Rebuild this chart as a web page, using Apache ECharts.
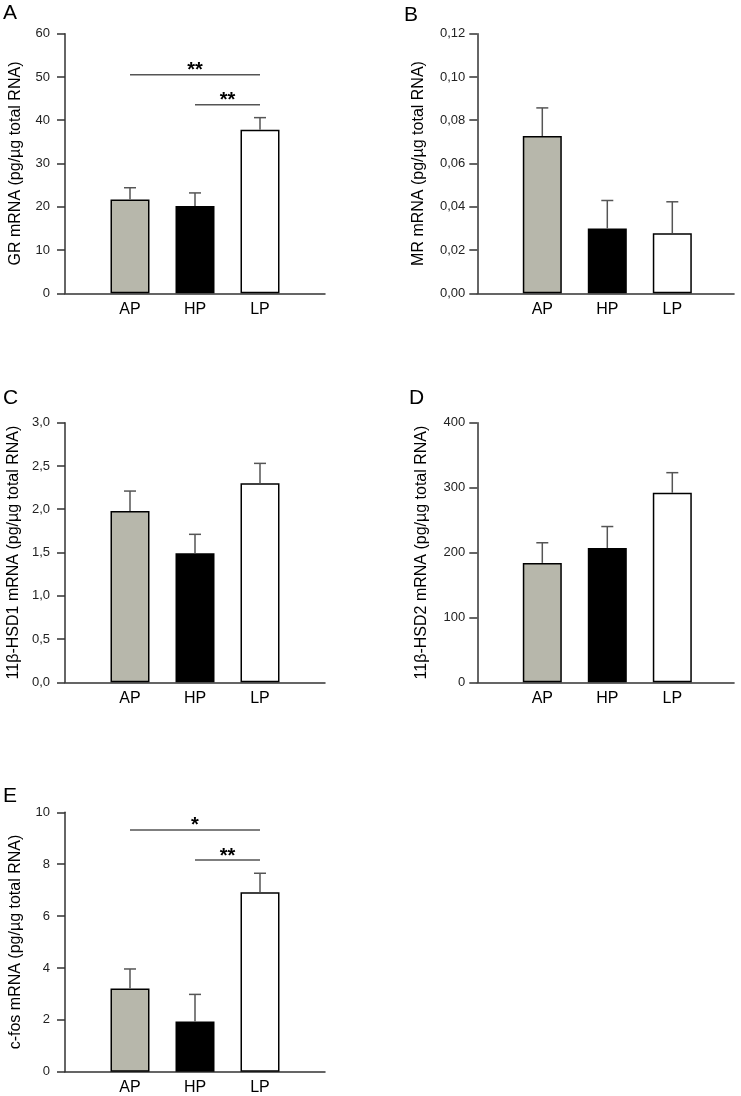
<!DOCTYPE html>
<html><head><meta charset="utf-8">
<script src="https://cdn.jsdelivr.net/npm/echarts@6/dist/echarts.min.js"></script>
<style>html,body{margin:0;padding:0;background:#fff}#c{width:741px;height:1096px}</style>
</head><body><div id="c"></div>
<script>
// ---- data ----
const categories = ['AP', 'HP', 'LP'];
const barColors = ['#b7b7ab', '#000000', '#ffffff'];

const grMean = [21.7, 20.2, 37.8];
const grErrTop = [24.4, 23.2, 40.6];
const mrMean = [0.0727, 0.030, 0.0278];
const mrErrTop = [0.0857, 0.0429, 0.0423];
const hsd1Mean = [1.98, 1.49, 2.30];
const hsd1ErrTop = [2.21, 1.71, 2.53];
const hsd2Mean = [184, 207, 292];
const hsd2ErrTop = [215, 240, 323];
const cfosMean = [3.21, 1.94, 6.92];
const cfosErrTop = [3.96, 2.98, 7.65];

const grSig = [['AP', 'LP', 50.5, '**'], ['HP', 'LP', 43.6, '**']];
const cfosSig = [['AP', 'LP', 9.32, '*'], ['HP', 'LP', 8.16, '**']];

const panelLetters = ['A', 'B', 'C', 'D', 'E'];
const yTitles = [
  'GR mRNA (pg/µg total RNA)',
  'MR mRNA (pg/µg total RNA)',
  '11β-HSD1 mRNA (pg/µg total RNA)',
  '11β-HSD2 mRNA (pg/µg total RNA)',
  'c-fos mRNA (pg/µg total RNA)'
];
const yMax = [60, 0.12, 3.0, 400, 10];
const yInterval = [10, 0.02, 0.5, 100, 2];
const yDecimals = [0, 2, 1, 0, 0];

// ---- layout ----
const FONT = 'Liberation Sans, Arial, sans-serif';
const panels = [
  {mean: grMean, err: grErrTop, sig: grSig, left: 65, top: 33.7, h: 259.6, w: 260, xmax: 4, nameGap: 41, lm: 15, lx: 3, ly: 3},
  {mean: mrMean, err: mrErrTop, sig: [], left: 477.3, top: 33.7, h: 259.6, w: 256.75, xmax: 3.95, nameGap: 51, lm: 12, lx: 404, ly: 5},
  {mean: hsd1Mean, err: hsd1ErrTop, sig: [], left: 65, top: 422.7, h: 259.6, w: 260, xmax: 4, nameGap: 43, lm: 15, lx: 3, ly: 388},
  {mean: hsd2Mean, err: hsd2ErrTop, sig: [], left: 477.3, top: 422.7, h: 259.6, w: 256.75, xmax: 3.95, nameGap: 48, lm: 12, lx: 409, ly: 388},
  {mean: cfosMean, err: cfosErrTop, sig: cfosSig, left: 65, top: 812.3, h: 259.4, w: 260, xmax: 4, nameGap: 41, lm: 15, lx: 3, ly: 786}
];

const grid = [], xAxis = [], yAxis = [], series = [], graphic = [];
const catPos = c => categories.indexOf(c) + 1;

panels.forEach((p, i) => {
  grid.push({left: p.left, top: p.top, width: p.w, height: p.h});
  xAxis.push({
    gridIndex: i, type: 'value', min: 0, max: p.xmax, interval: 1,
    splitLine: {show: false}, axisTick: {show: false},
    axisLine: {show: true, lineStyle: {color: '#333', width: 1.5}},
    axisLabel: {
      color: '#000', fontSize: 16, fontFamily: FONT, margin: 8,
      showMinLabel: true, showMaxLabel: false,
      formatter: v => (v >= 1 && v <= categories.length && Number.isInteger(v)) ? categories[v - 1] : ''
    }
  });
  yAxis.push({
    gridIndex: i, type: 'value', min: 0, max: yMax[i], interval: yInterval[i],
    splitLine: {show: false},
    axisLine: {show: true, lineStyle: {color: '#333', width: 1.5}},
    axisTick: {show: true, inside: false, length: 8, lineStyle: {color: '#333', width: 1.5}},
    axisLabel: {
      color: '#222', fontSize: 13, fontFamily: FONT, margin: p.lm,
      formatter: v => v.toFixed(yDecimals[i]).replace('.', ',')
    },
    name: yTitles[i], nameLocation: 'middle', nameRotate: 90, nameGap: p.nameGap,
    nameTextStyle: {color: '#000', fontSize: 16, fontFamily: FONT}
  });
  series.push({
    type: 'bar', xAxisIndex: i, yAxisIndex: i, barWidth: 39,
    data: categories.map((c, k) => ({
      value: [k + 1, p.mean[k]],
      itemStyle: {color: barColors[k], borderColor: '#000', borderWidth: 1.5}
    })),
    animation: false
  });
  series.push({
    type: 'custom', xAxisIndex: i, yAxisIndex: i, z: 3,
    data: categories.map((c, k) => [k + 1, p.mean[k], p.err[k]]),
    renderItem: (params, api) => {
      const x = api.value(0);
      const a = api.coord([x, api.value(1)]);
      const b = api.coord([x, api.value(2)]);
      const st = {stroke: '#555', lineWidth: 1.5};
      return {type: 'group', children: [
        {type: 'line', shape: {x1: a[0], y1: a[1], x2: b[0], y2: b[1]}, style: st},
        {type: 'line', shape: {x1: b[0] - 6, y1: b[1], x2: b[0] + 6, y2: b[1]}, style: st}
      ]};
    },
    animation: false
  });
  if (p.sig.length) {
    series.push({
      type: 'custom', xAxisIndex: i, yAxisIndex: i, z: 3,
      data: p.sig.map(s => [catPos(s[0]), catPos(s[1]), s[2]]),
      renderItem: (params, api) => {
        const a = api.coord([api.value(0), api.value(2)]);
        const b = api.coord([api.value(1), api.value(2)]);
        return {type: 'group', children: [
          {type: 'line', shape: {x1: a[0], y1: a[1], x2: b[0], y2: b[1]}, style: {stroke: '#555', lineWidth: 1.5}},
          {type: 'text', style: {
            text: p.sig[params.dataIndex][3], x: (a[0] + b[0]) / 2, y: a[1] - 4,
            textAlign: 'center', textVerticalAlign: 'middle',
            font: 'bold 20px ' + FONT, fill: '#000'
          }}
        ]};
      },
      animation: false
    });
  }
  graphic.push({
    type: 'text', left: p.lx, top: p.ly,
    style: {text: panelLetters[i], font: '21px ' + FONT, fill: '#000'}
  });
});

const chart = echarts.init(document.getElementById('c'), null, {renderer: 'canvas'});
chart.setOption({backgroundColor: '#fff', animation: false, grid, xAxis, yAxis, series, graphic});
</script>
</body></html>
